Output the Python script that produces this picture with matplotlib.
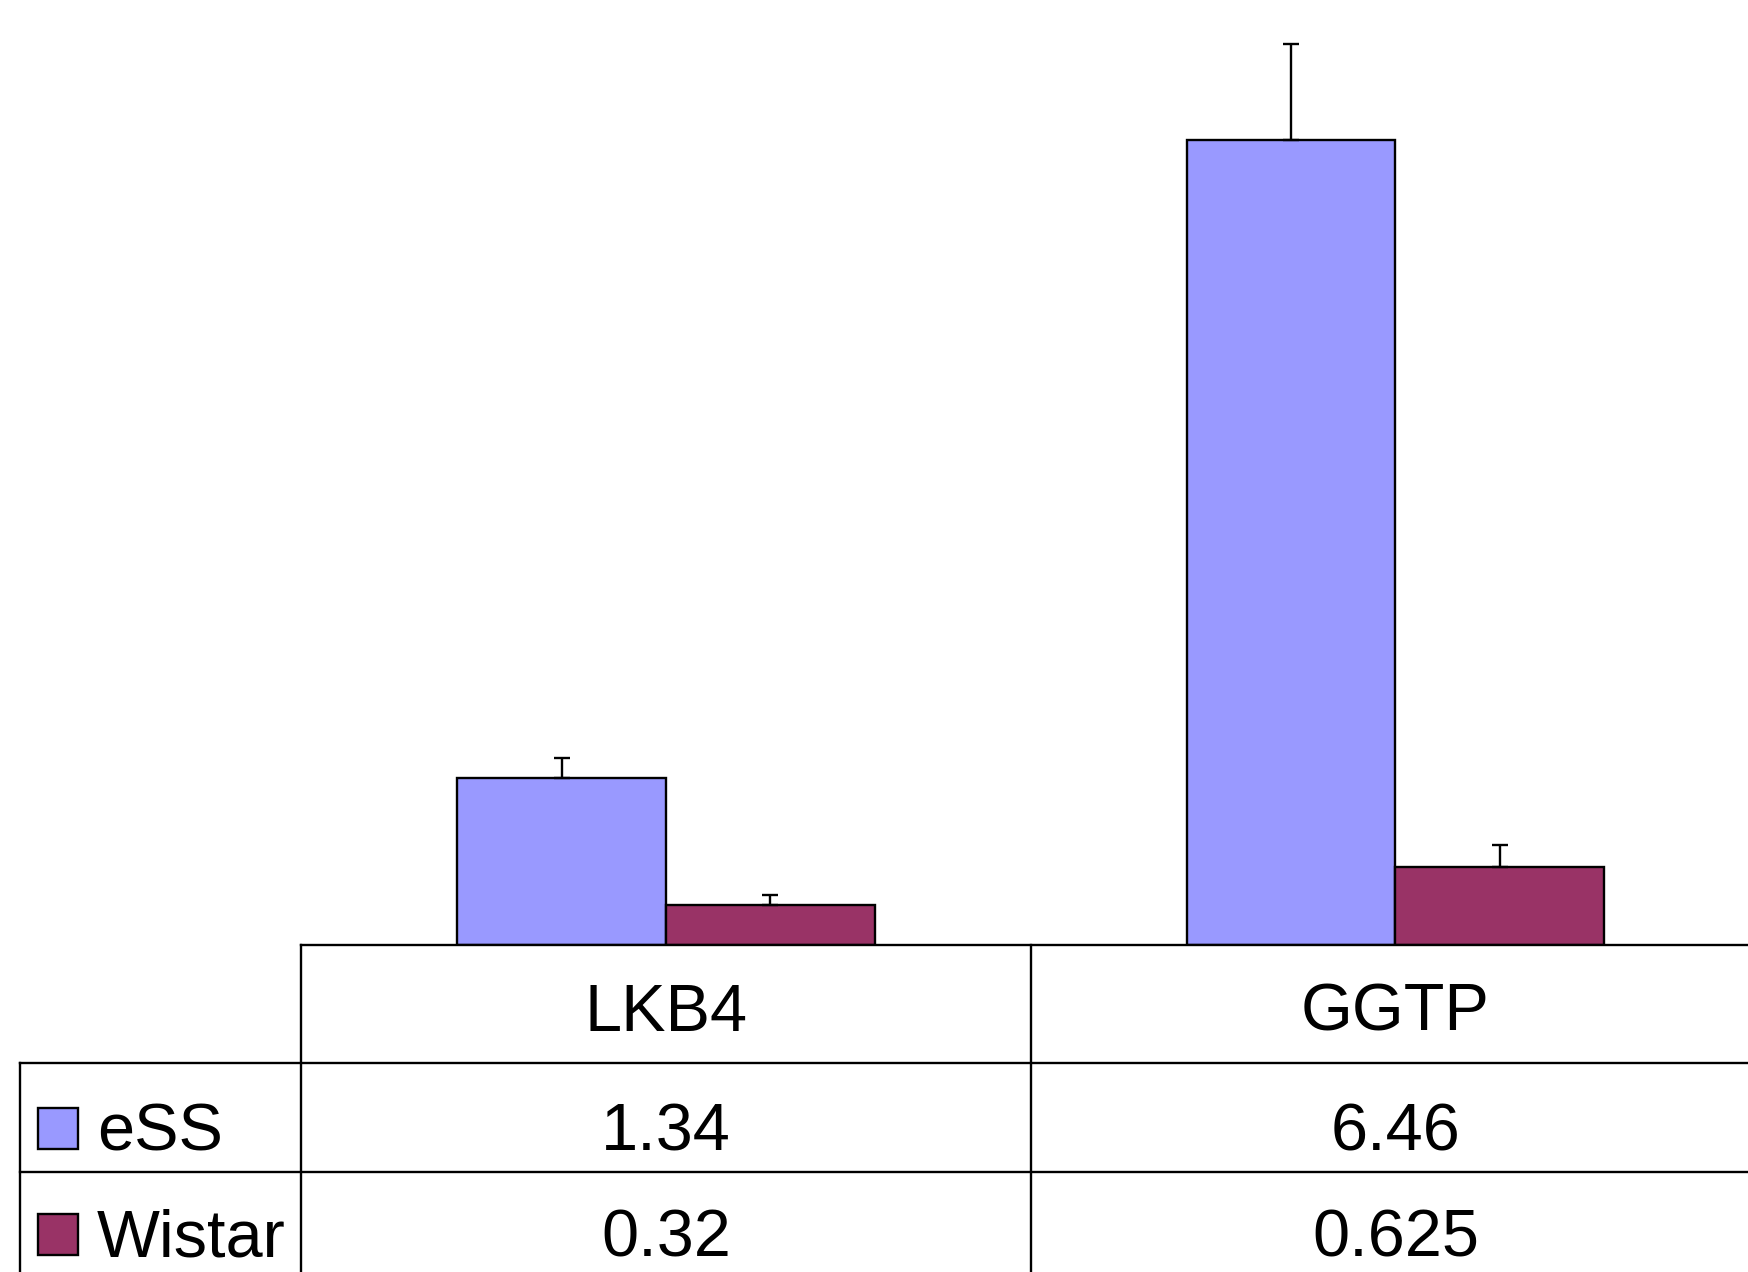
import numpy as np
import matplotlib.pyplot as plt
from matplotlib.transforms import blended_transform_factory
from matplotlib.patches import Rectangle

categories = ['LKB4', 'GGTP']
series = ['eSS', 'Wistar']
ess = [1.34, 6.46]
wistar = [0.32, 0.625]
ess_err = [0.16, 0.77]
wistar_err = [0.08, 0.18]
value_labels = [['1.34', '6.46'], ['0.32', '0.625']]
colors = ['#9999FF', '#993366']

plt.rcParams['font.family'] = ['Liberation Sans', 'DejaVu Sans']

W, H = 1568, 1140  # layout grid used for placing things


def fx(px):
    return px / W


def fy(py):
    return 1 - py / H


fig = plt.figure(figsize=(17.49, 12.72), dpi=100)
ax = fig.add_axes([fx(270), fy(847), fx(1578) - fx(270), 1 - fy(847)])

x = np.arange(len(categories)) + 0.5
w = 0.286
ekw = dict(elinewidth=1.7, capthick=1.7, ecolor='black')
ax.bar(x - w / 2, ess, w, color=colors[0], edgecolor='black', linewidth=1.7,
       yerr=[np.zeros(len(ess)), ess_err], capsize=6, error_kw=ekw)
ax.bar(x + w / 2, wistar, w, color=colors[1], edgecolor='black', linewidth=1.7,
       yerr=[np.zeros(len(wistar)), wistar_err], capsize=6, error_kw=ekw)
ax.set_xlim(0, len(categories))
ax.set_ylim(0, 7.58)
ax.axis('off')

# data table under the bars
tr = blended_transform_factory(ax.transData, fig.transFigure)
lw = 1.7
rows_y = [847, 953, 1050, 1147]
fig.add_artist(plt.Line2D([fx(270), fx(1578)], [fy(847)] * 2, color='black', lw=lw))
for yy in rows_y[1:]:
    fig.add_artist(plt.Line2D([fx(18), fx(1578)], [fy(yy)] * 2, color='black', lw=lw))
fig.add_artist(plt.Line2D([fx(18)] * 2, [fy(953), fy(1147)], color='black', lw=lw))
for i in range(len(categories) + 1):
    ax.add_artist(plt.Line2D([i, i], [fy(847), fy(1147)], transform=tr,
                             color='black', lw=lw, clip_on=False))

fs = 48
for i, c in enumerate(categories):
    fig.text(i + 0.5, fy(924), c, transform=tr, ha='center', va='baseline', fontsize=fs)

base = [1031, 1126]
for r, s in enumerate(series):
    fig.add_artist(Rectangle((fx(34), fy(base[r] - 1)), fx(36), 37 / H,
                             facecolor=colors[r], edgecolor='black', lw=1.7,
                             transform=fig.transFigure))
    fig.text(fx(87), fy(base[r]), s, ha='left', va='baseline', fontsize=fs)
    for i in range(len(categories)):
        fig.text(i + 0.5, fy(base[r]), value_labels[r][i], transform=tr,
                 ha='center', va='baseline', fontsize=fs)

fig.savefig('out.png', dpi=100)
